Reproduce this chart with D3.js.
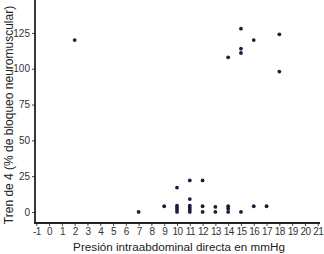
<!DOCTYPE html>
<html>
<head>
<meta charset="utf-8">
<script src="https://cdn.jsdelivr.net/npm/d3@7"></script>
<style>
  body { margin: 0; background: #fff; }
  svg { display: block; font-family: "Liberation Sans", Arial, sans-serif; }
</style>
</head>
<body>
<svg id="chart" width="324" height="254"></svg>
<script>
const width = 324;
const height = 254;

// presión (mmHg) and tren de 4 (%) pairs
const presion = [2, 7, 9, 10, 10, 10, 10, 10, 11, 11, 11, 11, 11, 11, 12, 12, 12,
  13, 13, 14, 14, 14, 14, 15, 15, 15, 15, 16, 16, 17, 18, 18];
const tren = [120, 0, 4, 17, 4.5, 3, 1.5, 0, 22, 9, 4.5, 3, 1.5, 0, 22, 4, 0,
  3.5, 0, 108, 4, 2.3, 0, 128, 114, 111, 0, 120, 4, 4, 124, 98];

const xTicks = d3.range(-1, 22);
const yTicks = [0, 25, 50, 75, 100, 125];

const svg = d3.select("#chart");

const x = d3.scaleLinear().domain([-1.1, 21.1]).range([35, 319]);
const y = d3.scaleLinear().domain([-7.7, 148]).range([223, 0]);

// y axis
const yAxis = svg.append("g")
  .attr("transform", "translate(35,0)")
  .call(d3.axisLeft(y).tickValues(yTicks).tickSize(3).tickPadding(2));
yAxis.select(".domain").remove();
yAxis.selectAll("text").attr("font-size", 10).attr("fill", "#333");
yAxis.selectAll("line").attr("stroke", "#444");

// x axis
const xAxis = svg.append("g")
  .attr("transform", "translate(0,223)")
  .call(d3.axisBottom(x).tickValues(xTicks).tickSize(3).tickPadding(2)
    .tickFormat(d => String(d)));
xAxis.select(".domain").remove();
xAxis.selectAll("text").attr("font-size", 10).attr("fill", "#333")
  .attr("letter-spacing", "-0.6px");
xAxis.selectAll("line").attr("stroke", "#444");

// axis lines
svg.append("line")
  .attr("x1", 35).attr("x2", 35).attr("y1", 0).attr("y2", 224)
  .attr("stroke", "#222").attr("stroke-width", 1.8);
svg.append("line")
  .attr("x1", 34).attr("x2", 320).attr("y1", 223).attr("y2", 223)
  .attr("stroke", "#222").attr("stroke-width", 1.8);

// points
svg.append("g")
  .selectAll("circle")
  .data(presion.map((p, i) => ({ p, t: tren[i] })))
  .join("circle")
  .attr("cx", d => x(d.p))
  .attr("cy", d => y(d.t))
  .attr("r", 1.9)
  .attr("fill", "#1c1c40");

// titles
svg.append("text")
  .attr("x", 179)
  .attr("y", 251)
  .attr("text-anchor", "middle")
  .attr("font-size", 11.7)
  .attr("fill", "#222")
  .text("Presión intraabdominal directa en mmHg");

svg.append("text")
  .attr("transform", "translate(13,115) rotate(-90)")
  .attr("text-anchor", "middle")
  .attr("font-size", 12)
  .attr("fill", "#222")
  .text("Tren de 4 (% de bloqueo neuromuscular)");
</script>
</body>
</html>
